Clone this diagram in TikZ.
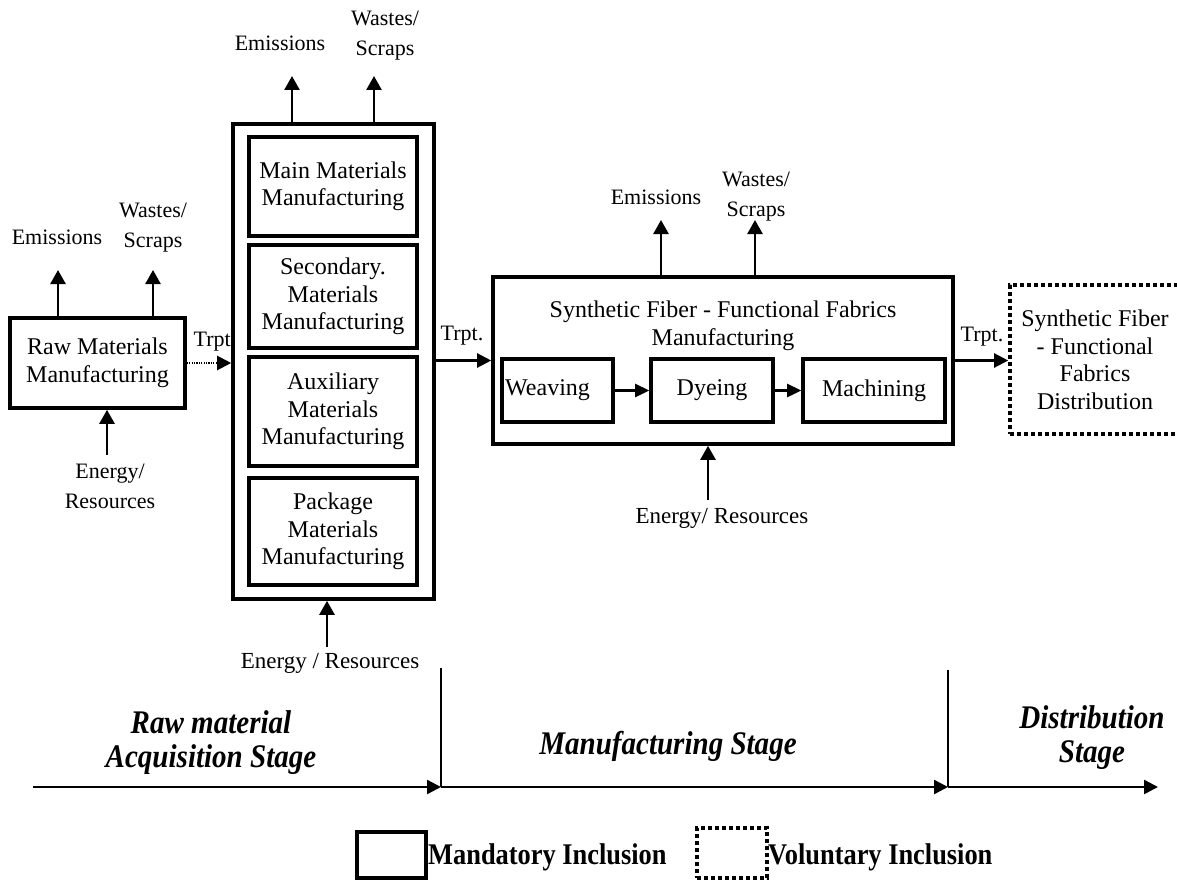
\documentclass[tikz,border=0pt]{standalone}
\usepackage{fontspec}
\setmainfont{Liberation Serif}
\newfontfamily\condfont[FakeStretch=0.88]{Liberation Serif}
\usetikzlibrary{arrows.meta}
\newcommand\fsbox{\fontsize{24}{27.5}\selectfont}
\newcommand\fslab{\fontsize{22}{30}\selectfont}
\newcommand\fsstage{\condfont\fontsize{33}{34}\selectfont\bfseries\itshape}
\newcommand\fsleg{\condfont\fontsize{30}{33}\selectfont\bfseries}
\begin{document}
\begin{tikzpicture}[x=1pt,y=-1pt,
  box/.style={draw, line width=3.6pt, align=center, inner sep=0pt, font=\fsbox},
  dotbox/.style={draw, line width=3.6pt, dash pattern=on 3.6pt off 3.4pt, align=center, inner sep=0pt, font=\fsbox},
  lab/.style={align=center, inner sep=0pt, font=\fslab},
  arr/.style={line width=2.6pt, -{Triangle[length=14pt,width=15pt]}},
  sarr/.style={line width=2.6pt, -{Triangle[length=14pt,width=13pt]}},
  tarr/.style={line width=2.2pt, -{Triangle[length=14pt,width=14pt]}},
  stage/.style={align=center, inner sep=0pt, font=\fsstage},
  axis/.style={line width=2.4pt, -{Triangle[length=14pt,width=14pt]}},
  vline/.style={line width=2pt}
]
\useasboundingbox (0,0) rectangle (1177,880);

% Raw materials
\node[box, minimum width=175pt, minimum height=90pt] (raw) at (97.5,363) {Raw Materials\\Manufacturing};
\node[lab] (em1) at (57,237) {Emissions};
\node[lab] (ws1) at (153,228) {Wastes/\\Scraps};
\node[lab] (en1) at (110,486) {Energy/\\Resources};
\coordinate (em1t) at (58,270);
\coordinate (ws1t) at (153,270);
\coordinate (en1b) at (107,455);
\draw[arr] (em1t |- raw.north) -- (em1t);
\draw[arr] (ws1t |- raw.north) -- (ws1t);
\draw[arr] (en1b) -- (en1b |- raw.south);

% Column
\node[box, minimum width=201pt, minimum height=475pt] (col) at (333.5,361.5) {};
\node[box, minimum width=168pt, minimum height=99pt] (main) at (333,186.5) {Main Materials\\Manufacturing};
\node[box, minimum width=168pt, minimum height=103pt] (sec) at (333,296.5) {Secondary.\\Materials\\Manufacturing};
\node[box, minimum width=168pt, minimum height=109pt] (aux) at (333,411.5) {Auxiliary\\Materials\\Manufacturing};
\node[box, minimum width=168pt, minimum height=107pt] (pack) at (333,531.5) {Package\\Materials\\Manufacturing};
\node[lab] (em2) at (280,43) {Emissions};
\node[lab] (ws2) at (385,36) {Wastes/\\Scraps};
\node[lab, font=\fontsize{23}{28}\selectfont] (en2) at (330,663) {Energy / Resources};
\coordinate (em2t) at (292,76);
\coordinate (ws2t) at (374,76);
\coordinate (en2b) at (327,647);
\draw[arr] (em2t |- col.north) -- (em2t);
\draw[arr] (ws2t |- col.north) -- (ws2t);
\draw[arr] (en2b) -- (en2b |- col.south);

% Transport raw -> column
\node[lab] (tr1) at (215,342) {Trpt.};
\draw[tarr, dash pattern=on 1.2pt off 1.2pt] (raw.east) -- (raw.east -| col.west);

% Synthetic fiber manufacturing
\node[box, minimum width=460pt, minimum height=167pt] (syn) at (723,360.5) {};
\node[lab, font=\fsbox] (syntitle) at (723,326) {Synthetic Fiber - Functional Fabrics\\Manufacturing};
\node[box, minimum width=111pt, minimum height=63pt] (weave) at (557.5,390.5) {};
\node[lab, font=\fsbox, anchor=west] (weavet) at (505,390.5) {Weaving};
\node[box, minimum width=122pt, minimum height=63pt] (dye) at (712,390.5) {Dyeing};
\node[box, minimum width=142pt, minimum height=63pt] (mach) at (874,390.5) {Machining};
\draw[sarr] (weave.east) -- (dye.west);
\draw[sarr] (dye.east) -- (mach.west);
\node[lab] (em3) at (656,197) {Emissions};
\node[lab] (ws3) at (756,197) {Wastes/\\Scraps};
\node[lab, font=\fontsize{23}{28}\selectfont] (en3) at (722,518) {Energy/ Resources};
\coordinate (em3t) at (661,220);
\coordinate (ws3t) at (755,220);
\coordinate (en3b) at (708,500);
\draw[arr] (em3t |- syn.north) -- (em3t);
\draw[arr] (ws3t |- syn.north) -- (ws3t);
\draw[arr] (en3b) -- (en3b |- syn.south);

% Transport column -> synthetic
\node[lab] (tr2) at (462,336) {Trpt.};
\draw[tarr] (syn.west -| col.east) -- (syn.west);

% Distribution
\node[dotbox, minimum width=174pt, minimum height=149pt] (dist) at (1097,359.5) {};
\node[lab, font=\fsbox] (distt) at (1095,360) {Synthetic Fiber\\- Functional\\Fabrics\\Distribution};
\node[lab] (tr3) at (982,337) {Trpt.};
\draw[tarr] (syn.east) -- (syn.east -| dist.west);

% Stage axis
\coordinate (a0) at (33,787);
\coordinate (a1) at (441,787);
\coordinate (a2) at (948,787);
\coordinate (a3) at (1158,787);
\coordinate (v1) at (441,668);
\coordinate (v2) at (948,670);
\draw[vline] (v1) -- (a1);
\draw[vline] (v2) -- (a2);
\draw[axis] (a0) -- (a1);
\draw[axis] (a1) -- (a2);
\draw[axis] (a2) -- (a3);
\node[stage] (st1) at (211,743) {Raw material\\Acquisition Stage};
\node[stage] (st2) at (668,746) {Manufacturing Stage};
\node[stage] (st3) at (1092,738) {Distribution\\Stage};

% Legend
\node[box, minimum width=69pt, minimum height=46pt] (legm) at (391.5,855) {};
\node[inner sep=0pt, font=\fsleg, anchor=west] (legmt) at (428,857) {Mandatory Inclusion};
\node[dotbox, minimum width=70pt, minimum height=50pt] (legv) at (732,853) {};
\node[inner sep=0pt, font=\fsleg, anchor=west] (legvt) at (768,857) {Voluntary Inclusion};
\end{tikzpicture}
\end{document}
